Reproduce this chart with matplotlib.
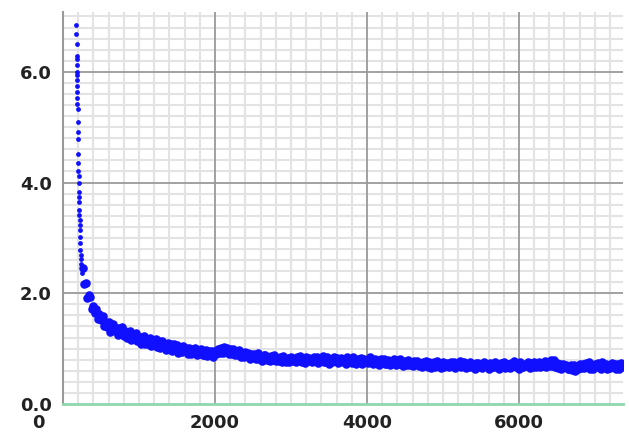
import matplotlib.pyplot as plt
import matplotlib.transforms as mtransforms
import numpy as np

############## Data ##############
# steep head of the curve (read point by point)
head_x = [172, 175, 178, 180, 181, 183, 184, 185, 186, 187, 188, 189, 190, 191, 193, 195,
          197, 199, 201, 203, 204, 206, 208, 210, 212, 214, 216, 218, 220, 222, 225, 228,
          230, 233, 236, 240, 245, 250, 255]
head_y = [6.84, 6.68, 6.50, 6.28, 6.23, 6.12, 5.99, 5.94, 5.86, 5.74, 5.63, 5.52, 5.41, 5.32,
          5.10, 4.92, 4.78, 4.52, 4.36, 4.20, 4.11, 4.00, 3.82, 3.73, 3.64, 3.51, 3.42, 3.33,
          3.24, 3.15, 3.02, 2.91, 2.79, 2.70, 2.61, 2.52, 2.43, 2.36, 2.50]

# noisy tail, one sample every 20 steps starting at 260
tail_start, tail_step = 260, 20
tail_y = [
    2.45, 2.16, 2.18, 1.91, 1.97, 1.93, 1.72, 1.77, 1.65, 1.71,
    1.54, 1.62, 1.51, 1.59, 1.40, 1.49, 1.39, 1.49, 1.30, 1.40,
    1.45, 1.32, 1.37, 1.24, 1.38, 1.29, 1.39, 1.23, 1.31, 1.20,
    1.21, 1.32, 1.16, 1.26, 1.19, 1.28, 1.13, 1.21, 1.08, 1.21,
    1.22, 1.08, 1.16, 1.09, 1.20, 1.04, 1.14, 1.08, 1.17, 1.03,
    1.13, 1.02, 1.14, 1.04, 1.07, 0.97, 1.11, 1.00, 1.08, 0.96,
    1.09, 0.99, 1.06, 0.93, 1.02, 0.94, 1.05, 0.96, 1.02, 0.91,
    1.02, 0.90, 0.99, 0.93, 1.02, 0.88, 0.96, 0.90, 1.00, 0.88,
    0.89, 0.98, 0.86, 0.95, 0.88, 0.96, 0.84, 0.96, 0.91, 1.00,
    0.92, 1.01, 0.92, 1.03, 0.95, 1.02, 0.91, 0.99, 0.91, 0.99,
    0.88, 0.96, 0.88, 0.97, 0.84, 0.92, 0.85, 0.94, 0.86, 0.92,
    0.82, 0.90, 0.85, 0.91, 0.81, 0.92, 0.82, 0.87, 0.78, 0.88,
    0.89, 0.80, 0.85, 0.77, 0.87, 0.79, 0.88, 0.77, 0.83, 0.77,
    0.85, 0.76, 0.87, 0.79, 0.75, 0.83, 0.76, 0.85, 0.77, 0.82,
    0.75, 0.84, 0.78, 0.86, 0.76, 0.81, 0.74, 0.85, 0.77, 0.83,
    0.82, 0.75, 0.85, 0.77, 0.84, 0.74, 0.83, 0.78, 0.86, 0.76,
    0.76, 0.84, 0.73, 0.81, 0.75, 0.85, 0.77, 0.83, 0.74, 0.82,
    0.83, 0.75, 0.82, 0.73, 0.84, 0.77, 0.81, 0.74, 0.85, 0.76,
    0.73, 0.81, 0.76, 0.83, 0.72, 0.82, 0.75, 0.80, 0.74, 0.84,
    0.80, 0.72, 0.82, 0.75, 0.79, 0.71, 0.81, 0.74, 0.82, 0.73,
    0.72, 0.80, 0.70, 0.78, 0.74, 0.81, 0.71, 0.79, 0.73, 0.82,
    0.76, 0.69, 0.78, 0.71, 0.80, 0.70, 0.75, 0.68, 0.77, 0.72,
    0.77, 0.69, 0.74, 0.66, 0.76, 0.70, 0.78, 0.67, 0.75, 0.65,
    0.68, 0.75, 0.66, 0.77, 0.69, 0.74, 0.65, 0.76, 0.67, 0.73,
    0.74, 0.67, 0.76, 0.69, 0.75, 0.65, 0.73, 0.68, 0.77, 0.66,
    0.68, 0.75, 0.65, 0.73, 0.66, 0.76, 0.67, 0.72, 0.64, 0.74,
    0.74, 0.67, 0.72, 0.65, 0.75, 0.68, 0.73, 0.64, 0.74, 0.66,
    0.67, 0.75, 0.66, 0.73, 0.64, 0.74, 0.68, 0.76, 0.65, 0.72,
    0.73, 0.65, 0.74, 0.68, 0.77, 0.66, 0.72, 0.64, 0.75, 0.67,
    0.66, 0.73, 0.68, 0.75, 0.65, 0.74, 0.67, 0.76, 0.66, 0.72,
    0.75, 0.66, 0.74, 0.68, 0.77, 0.67, 0.76, 0.69, 0.79, 0.68,
    0.80, 0.67, 0.74, 0.65, 0.72, 0.64, 0.73, 0.66, 0.71, 0.63,
    0.64, 0.71, 0.61, 0.70, 0.59, 0.69, 0.63, 0.72, 0.65, 0.73,
    0.65, 0.74, 0.66, 0.75, 0.64, 0.71, 0.63, 0.73, 0.67, 0.74,
    0.72, 0.64, 0.75, 0.66, 0.73, 0.63, 0.71, 0.65, 0.74, 0.67,
    0.73, 0.64, 0.72, 0.63, 0.74, 0.67,
]
tail_x = tail_start + tail_step * np.arange(len(tail_y))

xticks = [0, 2000, 4000, 6000]
xticklabels = ["0", "2000", "4000", "6000"]
yticks = [0, 2, 4, 6]
yticklabels = ["0.0", "2.0", "4.0", "6.0"]

############## Plot ##############
fig = plt.figure(figsize=(6.29, 4.32), dpi=100)
ax = fig.add_axes([63 / 629, 1 - 404 / 432, 560 / 629, 392 / 432])

# head: small separate dots, tail: bigger dots so the band looks solid
ax.scatter(head_x, head_y, s=12, color="#1010ff", linewidths=0, zorder=3)
ax.scatter(tail_x, tail_y, s=38, color="#1010ff", linewidths=0, zorder=3)

ax.set_xlim(0, 7370)
ax.set_ylim(0, 7.08)

ax.set_xticks(xticks)
ax.set_xticklabels(xticklabels)
ax.set_yticks(yticks)
ax.set_yticklabels(yticklabels)
ax.set_xticks(np.arange(0, 7400, 200), minor=True)
ax.set_yticks(np.arange(0, 7.1, 0.2), minor=True)

# minor grid from the axis, major grid drawn on top of it
ax.grid(True, which="minor", color="#e3e3e3", linewidth=1.5, zorder=0)
for xv in xticks[1:]:
    ax.axvline(xv, color="#9a9a9a", linewidth=1.3, zorder=1)
for yv in yticks[1:]:
    ax.axhline(yv, color="#9a9a9a", linewidth=1.3, zorder=1)
ax.set_axisbelow(True)

ax.tick_params(which="both", length=0)
ax.tick_params(axis="y", pad=8)
ax.tick_params(axis="x", pad=7)
for lab in ax.get_xticklabels() + ax.get_yticklabels():
    lab.set_fontweight("bold")
    lab.set_fontsize(13)
    lab.set_color("#222222")

# the "0" on the x axis sits left of the axis
off = mtransforms.ScaledTranslation(-0.25, 0, fig.dpi_scale_trans)
ax.get_xticklabels()[0].set_transform(ax.get_xticklabels()[0].get_transform() + off)

ax.spines["top"].set_visible(False)
ax.spines["right"].set_visible(False)
ax.spines["left"].set_color("#9a9a9a")
ax.spines["left"].set_linewidth(1.5)
ax.spines["bottom"].set_color("#8fd6ad")
ax.spines["bottom"].set_linewidth(2)
ax.spines["bottom"].set_zorder(4)

fig.savefig("out.png", dpi=100)
